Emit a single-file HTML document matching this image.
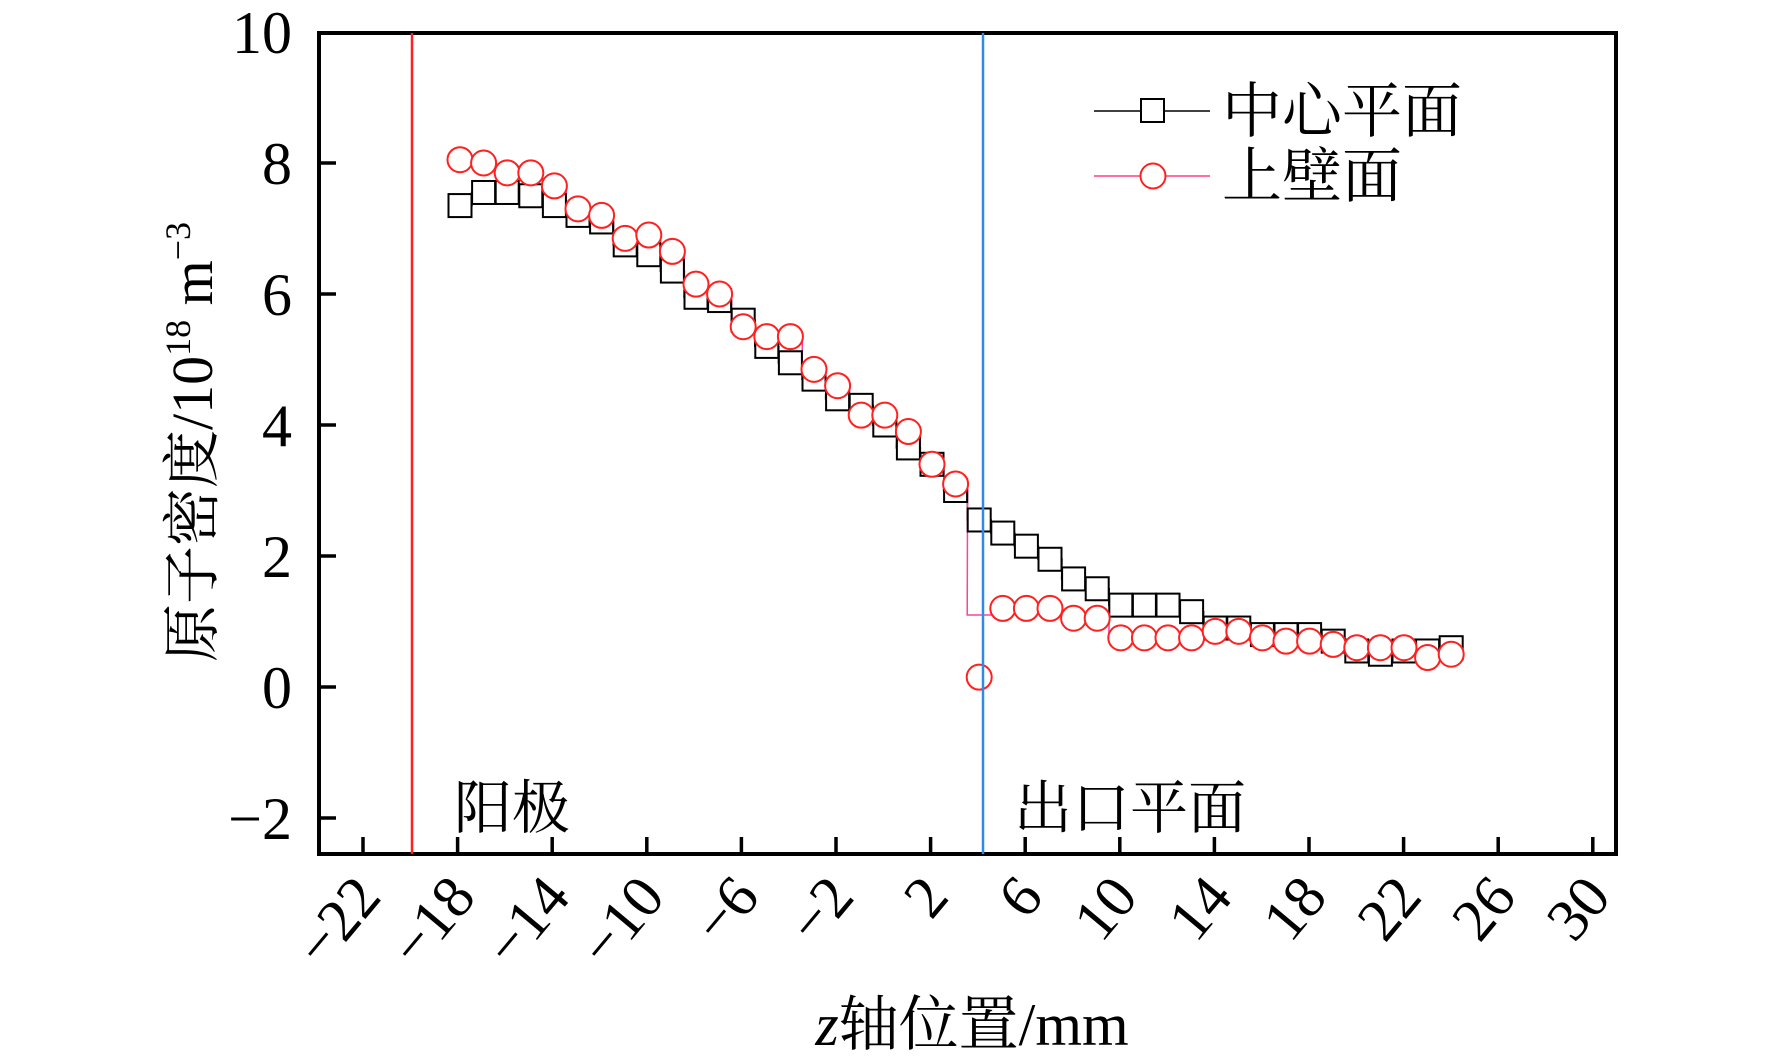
<!DOCTYPE html>
<html><head><meta charset="utf-8"><style>
html,body{margin:0;padding:0;background:#fff;}
svg{display:block;}
text{font-family:"Liberation Serif","Noto Serif CJK SC",serif;fill:#000;}
</style></head><body>
<svg width="1772" height="1059" viewBox="0 0 1772 1059" xmlns="http://www.w3.org/2000/svg">
<g id="plot"></g>
<!-- frame -->
<rect x="319" y="33" width="1297" height="821" fill="none" stroke="#000" stroke-width="4"/>
<g stroke="#000" stroke-width="3.5">
<line x1="319" y1="163" x2="336" y2="163"/>
<line x1="319" y1="294" x2="336" y2="294"/>
<line x1="319" y1="425" x2="336" y2="425"/>
<line x1="319" y1="556" x2="336" y2="556"/>
<line x1="319" y1="687" x2="336" y2="687"/>
<line x1="319" y1="818" x2="336" y2="818"/>
</g>
<g font-size="60" text-anchor="end">
<text x="292" y="53">10</text>
<text x="292" y="184">8</text>
<text x="292" y="315">6</text>
<text x="292" y="446">4</text>
<text x="292" y="577">2</text>
<text x="292" y="708">0</text>
<text x="292" y="839">−2</text>
</g>
<g id="xt"></g>
<line x1="412" y1="33" x2="412" y2="854" stroke="#ff2020" stroke-width="2.5"/>
<line x1="983" y1="33" x2="983" y2="854" stroke="#2f8aea" stroke-width="2.5"/>
<text x="454" y="828" font-size="58">阳极</text>
<text x="1014" y="828" font-size="58">出口平面</text>
<!-- legend -->
<line x1="1094" y1="111" x2="1210" y2="111" stroke="#000" stroke-width="1.5"/>
<rect x="1141" y="99" width="23" height="23" fill="#fff" stroke="#000" stroke-width="2"/>
<line x1="1094" y1="176" x2="1210" y2="176" stroke="#ff4080" stroke-width="1.5"/>
<circle cx="1153" cy="176" r="12.5" fill="#fff" stroke="#ff2020" stroke-width="2"/>
<text x="1222" y="132" font-size="60">中心平面</text>
<text x="1222" y="197" font-size="60">上壁面</text>
<text transform="translate(212,442) rotate(-90)" text-anchor="middle" font-size="58">原子密度/10<tspan font-size="36" dy="-22">18</tspan><tspan dy="22"> m</tspan><tspan font-size="36" dy="-22">−3</tspan></text>
<text x="972" y="1045" text-anchor="middle" font-size="60"><tspan font-style="italic">z</tspan>轴位置/mm</text>
</svg>
<script>
var ns="http://www.w3.org/2000/svg";
function Y(v){return 687-v*65.5;}
function X(i){return 460+i*23.6;}
var sq=[7.35,7.55,7.55,7.5,7.35,7.2,7.1,6.75,6.6,6.35,5.95,5.9,5.6,5.2,4.95,4.7,4.4,4.3,4.0,3.65,3.4,3.0,2.55,2.35,2.15,1.95,1.65,1.5,1.25,1.25,1.25,1.15,0.9,0.9,0.8,0.8,0.8,0.7,0.55,0.5,0.55,0.55,0.6];
var ci=[8.05,8.0,7.85,7.85,7.65,7.3,7.2,6.85,6.9,6.65,6.15,6.0,5.5,5.35,5.35,4.85,4.6,4.15,4.15,3.9,3.4,3.1,0.15,1.2,1.2,1.2,1.05,1.05,0.75,0.75,0.75,0.75,0.85,0.85,0.75,0.7,0.7,0.65,0.6,0.6,0.6,0.45,0.5];
var g=document.getElementById("plot"),h="";
var p="M"+(X(0)-12)+" "+Y(sq[0]);
for(var i=0;i<sq.length;i++){p+=" L"+(X(i)-12)+" "+Y(sq[i])+" L"+(X(i)+12)+" "+Y(sq[i]);}
h+='<path d="'+p+'" fill="none" stroke="#000" stroke-width="1.5"/>';
var q="M"+(X(0)-12)+" "+Y(ci[0]);
for(var i=0;i<ci.length;i++){var yy=Y(ci[i]);if(i==22)yy=Y(1.1);q+=" L"+(X(i)-12)+" "+yy+" L"+(X(i)+12)+" "+yy;}
h+='<path d="'+q+'" fill="none" stroke="#ff40a0" stroke-width="1.5"/>';
for(var i=0;i<sq.length;i++)h+='<rect x="'+(X(i)-11.5)+'" y="'+(Y(sq[i])-11.5)+'" width="23" height="23" fill="#fff" stroke="#000" stroke-width="2"/>';
for(var i=0;i<ci.length;i++)h+='<circle cx="'+X(i)+'" cy="'+Y(ci[i])+'" r="12.5" fill="#fff" stroke="#ff2020" stroke-width="2"/>';
g.innerHTML=h;
var t="";
for(var v=-22;v<=30;v+=4){var x=363+(v+22)*23.65;
t+='<line x1="'+x+'" y1="854" x2="'+x+'" y2="837" stroke="#000" stroke-width="3.5"/>';
t+='<text font-size="60" text-anchor="end" transform="translate('+(x+20)+',898) rotate(-50)">'+(v<0?'−'+(-v):v)+'</text>';}
document.getElementById("xt").innerHTML=t;
</script>
</body></html>
